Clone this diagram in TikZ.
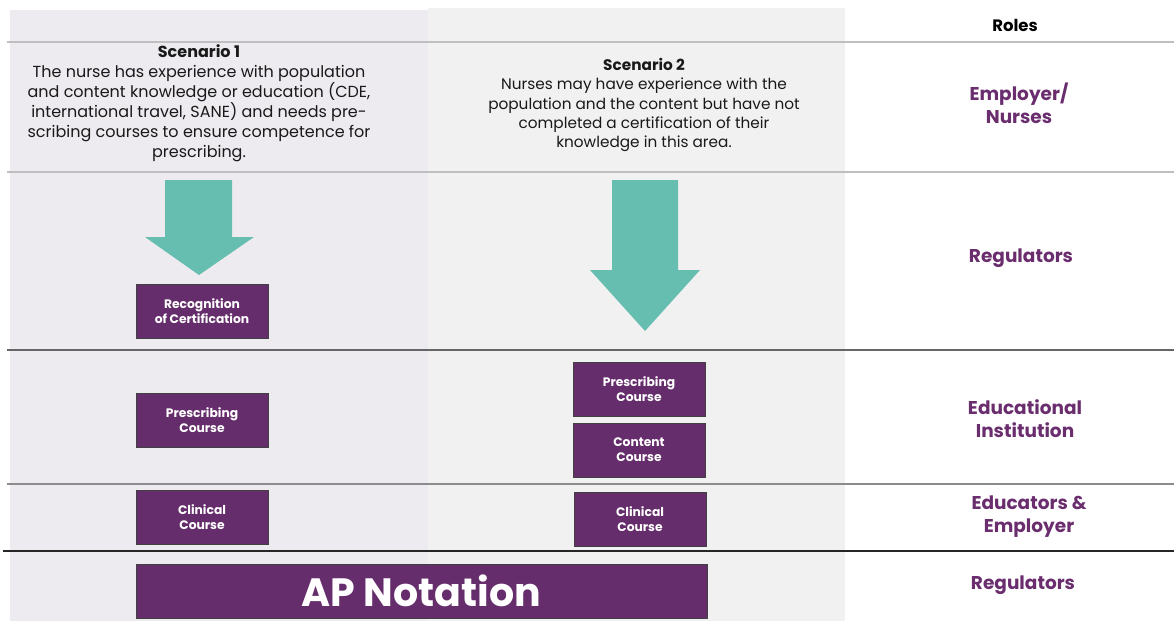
\documentclass[tikz,border=0pt]{standalone}
\usepackage{fontspec}
\setmainfont{Poppins}
\definecolor{plum}{HTML}{652D6B}
\definecolor{rolepurple}{HTML}{6A2D6E}
\definecolor{teal}{HTML}{66BEB1}
\definecolor{lavbg}{HTML}{EEEBF0}
\definecolor{greybg}{HTML}{F1F1F1}

\begin{document}
\begin{tikzpicture}[x=1pt,y=-1pt,
  course/.style={fill=plum,draw=black!75,line width=0.8pt,minimum width=132pt,
    minimum height=54pt,inner sep=0pt,text=white,align=center,
    font=\fontsize{12.3}{15}\selectfont\bfseries},
  role/.style={text=rolepurple,align=center,font=\fontsize{18.5}{23}\selectfont\bfseries},
  scen/.style={align=center,text=black!90,font=\fontsize{16}{20}\selectfont},
  rowline/.style={draw=black!25,line width=1.5pt},
  flow/.style={fill=teal,draw=none}]
\useasboundingbox (0,0) rectangle (1174,621);
% column backgrounds
\fill[lavbg] (10,10) rectangle (428,621);
\fill[greybg] (428,8) rectangle (845,621);
% row separators
\draw[rowline] (7,42) -- (1174,42);
\draw[rowline] (7,172) -- (1174,172);
\draw[rowline,draw=black!60] (7,350) -- (1174,350);
\draw[rowline,draw=black!45] (7,484) -- (1174,484);
\draw[rowline,draw=black!85,line width=1.2pt] (3,551) -- (1174,551);
% scenarios
\node[scen] (scen1) at (199,103) {\textbf{Scenario 1}\\
  The nurse has experience with population\\
  and content knowledge or education (CDE,\\
  international travel, SANE) and needs pre-\\
  scribing courses to ensure competence for\\
  prescribing.};
\node[scen,font=\fontsize{15.3}{19.3}\selectfont] (scen2) at (644,105) {\textbf{Scenario 2}\\
  Nurses may have experience with the\\
  population and the content but have not\\
  completed a certification of their\\
  knowledge in this area.};
% arrows
\fill[flow] (165,180) -- (232,180) -- (232,237) -- (254,237) -- (199,275)
  -- (145,237) -- (165,237) -- cycle;
\fill[flow] (612,180) -- (678,180) -- (678,270) -- (700,270) -- (645,331)
  -- (590,270) -- (612,270) -- cycle;
% course boxes
\node[course] (recog) at (202,311) {Recognition\\of Certification};
\node[course] (presc1) at (202,420) {Prescribing\\Course};
\node[course] (clin1) at (202,517) {Clinical\\Course};
\node[course] (presc2) at (639,389) {Prescribing\\Course};
\node[course] (content) at (639,450) {Content\\Course};
\node[course] (clin2) at (640,519) {Clinical\\Course};
\node[course,minimum width=571pt,font=\fontsize{39.5}{42}\selectfont\bfseries] (apnot)
  at (421.5,591) {AP Notation};
% roles
\node[font=\fontsize{16.5}{20}\selectfont\bfseries] (roles) at (1015,25) {Roles};
\node[role] (emp) at (1019,103.5) {Employer/\\Nurses};
\node[role] (reg1) at (1021,258) {Regulators};
\node[role] (edu) at (1025,418.5) {Educational\\Institution};
\node[role] (educ) at (1029,516.5) {Educators \&\\Employer};
\node[role] (reg2) at (1023,585) {Regulators};
\end{tikzpicture}
\end{document}
